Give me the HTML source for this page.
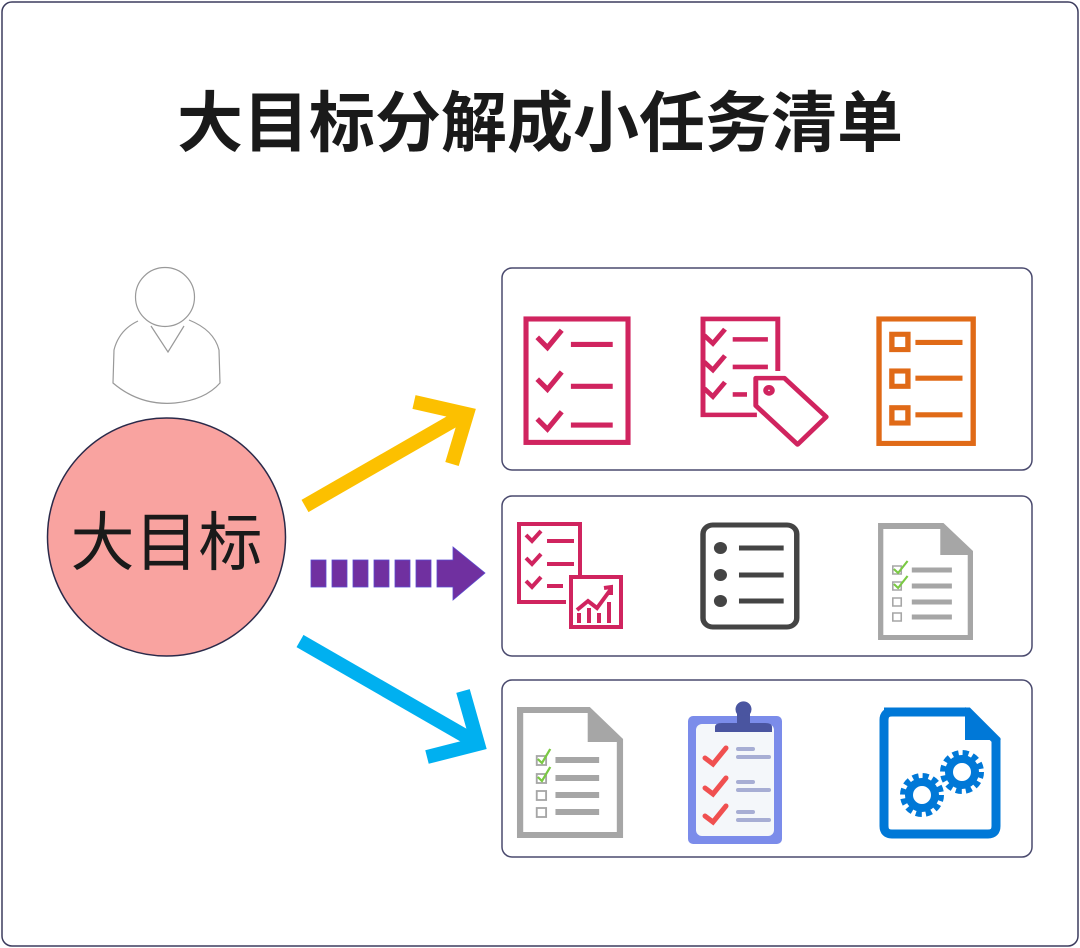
<!DOCTYPE html>
<html><head><meta charset="utf-8"><style>
html,body{margin:0;padding:0;background:#fff;}
svg{display:block;}
text{font-family:"Liberation Sans","Noto Sans CJK SC",sans-serif;}
</style></head><body>
<svg width="1080" height="948" viewBox="0 0 1080 948" xmlns="http://www.w3.org/2000/svg">
<rect x="2" y="2" width="1076" height="944" rx="10" fill="#fff" stroke="#3c3c5e" stroke-width="1.5"/>
<text x="540" y="146" text-anchor="middle" font-size="66" font-weight="bold" fill="#1a1a1a">大目标分解成小任务清单</text>

<!-- person -->
<g fill="#fff" stroke="#999" stroke-width="1.2">
<path d="M138 321 Q119 330 114 350 L113 383 Q140 406 175 403 Q205 400 220 383 L219 350 Q214 330 189 320"/>
<path d="M151 326 L168 352 L184 326" fill="none"/>
<circle cx="165" cy="297" r="29.5"/>
</g>
<!-- big circle -->
<circle cx="166.5" cy="537" r="119" fill="#f9a3a0" stroke="#2a2a4a" stroke-width="1.5"/>
<text x="166.5" y="565" text-anchor="middle" font-size="64" fill="#1a1a1a">大目标</text>

<!-- yellow arrow -->
<g stroke="#fcc000" stroke-width="14" fill="none">
<line x1="305" y1="506" x2="465" y2="414"/>
<polyline points="414,402 467,414 452,464"/>
</g>
<!-- purple dashed -->
<g fill="#7030a0" stroke="#5b4bd0" stroke-width="0.8">
<rect x="311" y="560" width="15" height="27"/>
<rect x="332" y="560" width="15" height="27"/>
<rect x="353" y="560" width="15" height="27"/>
<rect x="374" y="560" width="15" height="27"/>
<rect x="395" y="560" width="15" height="27"/>
<rect x="416" y="560" width="15" height="27"/>
<polygon points="437,560 453,560 453,547 485,573 453,600 453,587 437,587"/>
</g>
<!-- blue arrow -->
<g stroke="#00b0f0" stroke-width="14" fill="none">
<line x1="300" y1="641" x2="472" y2="740"/>
<polyline points="463,691 478,744 427,757"/>
</g>

<!-- boxes -->
<g fill="#fff" stroke="#4a4a6e" stroke-width="1.5">
<rect x="502" y="268" width="530" height="202" rx="10"/>
<rect x="502" y="496" width="530" height="160" rx="10"/>
<rect x="502" y="680" width="530" height="177" rx="10"/>
</g>

<!-- icon1 -->
<g stroke="#d0245f" stroke-width="5" fill="none" transform="matrix(1.02,0,0,1.02,-10.5,-6.4)">
<rect x="526" y="319" width="100" height="121"/>
<polyline points="537,337 547,347 561,330"/>
<polyline points="537,378 547,388 561,371"/>
<polyline points="537,417 547,427 561,410"/>
<line x1="570" y1="344" x2="611" y2="344"/>
<line x1="570" y1="385" x2="611" y2="385"/>
<line x1="570" y1="423" x2="611" y2="423"/>
</g>
<!-- icon2 -->
<g stroke="#d0245f" stroke-width="4.5" fill="none" transform="matrix(1.1,0,0,1.02,-73.6,-6.4)">
<polyline points="755,413 706,413 706,319 774,319 774,370"/>
<polyline points="707,335 715,343 726,329"/>
<polyline points="707,361 715,369 726,355"/>
<polyline points="707,387 715,395 726,381"/>
<line x1="733" y1="339" x2="765" y2="339"/>
<line x1="733" y1="366" x2="765" y2="366"/>
<line x1="733" y1="393" x2="746" y2="393"/>
<polygon points="754,377 780,377 818,415 792,442 754,404" stroke-linejoin="round"/>
<circle cx="766" cy="389" r="3"/>
</g>
<!-- icon3 -->
<g stroke="#e06a17" stroke-width="5" fill="none" transform="matrix(1.07,0,0,1.02,-50.8,-6.4)">
<rect x="869" y="319" width="88" height="122"/>
<rect x="881" y="334" width="15" height="15"/>
<rect x="881" y="370" width="15" height="15"/>
<rect x="881" y="406" width="15" height="15"/>
<line x1="903" y1="342" x2="947" y2="342"/>
<line x1="903" y1="377" x2="947" y2="377"/>
<line x1="903" y1="413" x2="947" y2="413"/>
</g>

<!-- icon4 -->
<g stroke="#d0245f" stroke-width="4" fill="none">
<polyline points="566,602 519,602 519,524 580,524 580,576"/>
<polyline points="526,535 532,541 541,531"/>
<polyline points="526,558 532,564 541,554"/>
<polyline points="526,581 532,587 541,577"/>
<line x1="547" y1="541" x2="574" y2="541"/>
<line x1="547" y1="564" x2="574" y2="564"/>
<line x1="547" y1="586" x2="563" y2="586"/>
<rect x="571" y="577" width="50" height="50"/>
<polyline points="577,610 588,601 597,608 611,589"/>
<polyline points="604,588 611,587 611,595"/>
</g>
<g fill="#d0245f"><rect x="577" y="613" width="4" height="10"/><rect x="587" y="608" width="4" height="15"/><rect x="597" y="613" width="4" height="10"/><rect x="607" y="602" width="4" height="21"/></g>
<!-- icon5 -->
<g transform="matrix(1.09,0,0,1,-58.9,0)">
<g stroke="#444" stroke-width="5" fill="none">
<rect x="699" y="525" width="86" height="102" rx="9"/>
<line x1="732" y1="548" x2="773" y2="548"/>
<line x1="732" y1="575" x2="773" y2="575"/>
<line x1="732" y1="601" x2="773" y2="601"/>
</g>
<g fill="#444"><circle cx="715" cy="548" r="6"/><circle cx="715" cy="575" r="6"/><circle cx="715" cy="601" r="6"/></g>
</g>
<!-- icon6 -->
<g transform="matrix(1.055,0,0,1,-37.7,0)">
<path d="M868 523 L930 523 L958 551 L958 640 L868 640 Z M873 529 L873 635 L953 635 L953 555 L927 555 L927 529 Z" fill="#a6a6a6" fill-rule="evenodd"/>
<g stroke="#a6a6a6" stroke-width="5"><line x1="900" y1="570" x2="938" y2="570"/><line x1="900" y1="586" x2="938" y2="586"/><line x1="900" y1="602" x2="938" y2="602"/><line x1="900" y1="617" x2="938" y2="617"/></g>
<g stroke="#a6a6a6" stroke-width="1.5" fill="none"><rect x="882" y="566" width="8" height="8"/><rect x="882" y="582" width="8" height="8"/><rect x="882" y="598" width="8" height="8"/><rect x="882" y="613" width="8" height="8"/></g>
<g stroke="#7ac943" stroke-width="2" fill="none"><polyline points="883,569 887,573 896,561"/><polyline points="883,584 887,588 896,576"/></g>
</g>

<!-- icon7 -->
<g transform="matrix(1.04,0,0,1,-20.7,0)">
<path d="M517 707 L587 707 L619 739 L619 838 L517 838 Z M523 713 L523 832 L613 832 L613 742 L585 742 L585 713 Z" fill="#a6a6a6" fill-rule="evenodd"/>
<g stroke="#a6a6a6" stroke-width="6"><line x1="554" y1="760" x2="596" y2="760"/><line x1="554" y1="778" x2="596" y2="778"/><line x1="554" y1="795" x2="596" y2="795"/><line x1="554" y1="812" x2="596" y2="812"/></g>
<g stroke="#a6a6a6" stroke-width="1.8" fill="none"><rect x="536" y="756" width="9" height="9"/><rect x="536" y="774" width="9" height="9"/><rect x="536" y="791" width="9" height="9"/><rect x="536" y="808" width="9" height="9"/></g>
<g stroke="#7ac943" stroke-width="2.2" fill="none"><polyline points="537,759 541,763 549,749"/><polyline points="537,777 541,781 549,767"/></g>
</g>
<!-- clipboard -->
<g transform="translate(6,0)">
<rect x="682" y="716" width="94" height="128" rx="5" fill="#7b8cea"/>
<rect x="690" y="724" width="78" height="112" rx="6" fill="#f4f7fa"/>
<path d="M709 732 L709 727 Q709 723 716 723 L731 723 L731 714 A8 8 0 1 1 744 714 L744 723 L759 723 Q766 723 766 727 L766 732 Z" fill="#4a55a0"/>
<circle cx="738" cy="710" r="6" fill="#4a55a0"/>
<g stroke="#f05050" stroke-width="5" fill="none" stroke-linecap="round"><polyline points="699,758 707,764 720,748"/><polyline points="699,788 707,794 720,778"/><polyline points="699,816 707,822 720,806"/></g>
<g stroke="#a7aed4" stroke-width="4" stroke-linecap="round"><line x1="732" y1="749" x2="747" y2="749"/><line x1="732" y1="757" x2="763" y2="757"/><line x1="732" y1="782" x2="747" y2="782"/><line x1="732" y1="790" x2="763" y2="790"/><line x1="732" y1="812" x2="747" y2="812"/><line x1="732" y1="820" x2="763" y2="820"/></g>
</g>
<!-- blue doc gears -->
<g>
<path d="M884 712 L968 712 L996 740 L996 826 Q996 834 988 834 L892 834 Q884 834 884 826 L884 720 Q884 712 892 712 Z" fill="none" stroke="#0078d7" stroke-width="9"/>
<polygon points="965,707 1001,740 965,740" fill="#0078d7"/>
<g fill="none" stroke="#0078d7">
<circle cx="922" cy="795" r="13" stroke-width="8"/>
<circle cx="922" cy="795" r="19" stroke-width="6" stroke-dasharray="6 4"/>
<circle cx="962" cy="772" r="13" stroke-width="8"/>
<circle cx="962" cy="772" r="19" stroke-width="6" stroke-dasharray="6 4"/>
</g>
</g>
</svg>
</body></html>
